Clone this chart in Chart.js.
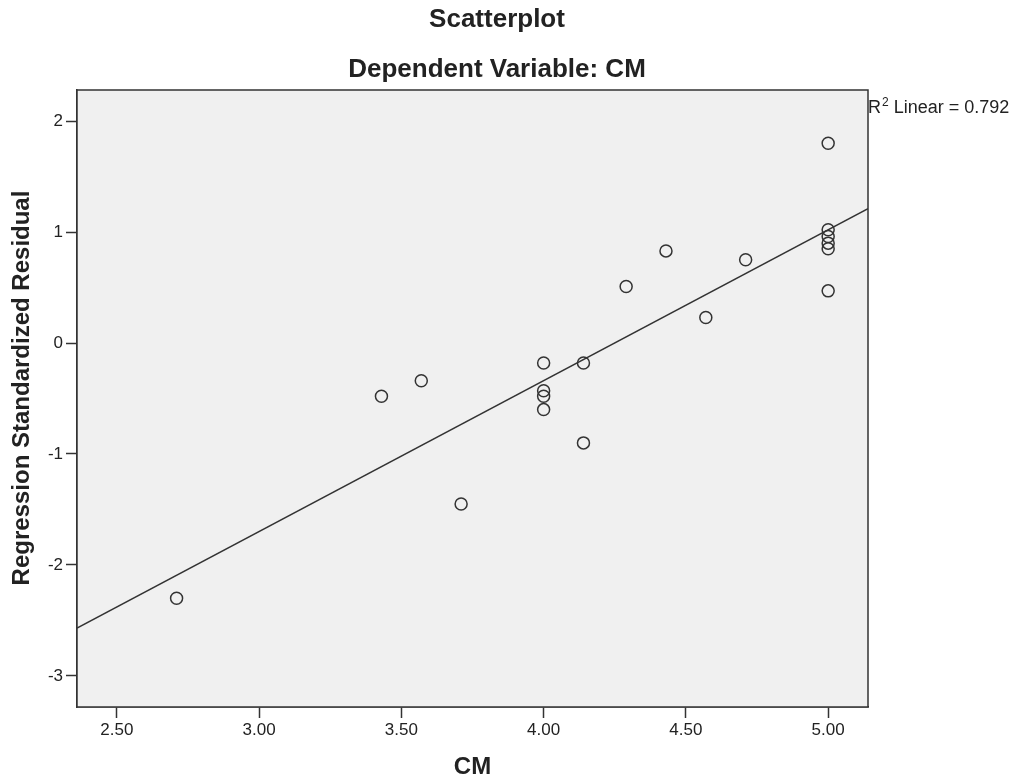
<!DOCTYPE html>
<html>
<head>
<meta charset="utf-8">
<script src="https://cdn.jsdelivr.net/npm/chart.js@4"></script>
<style>
  html, body { margin: 0; padding: 0; background: #fff; }
  #wrap { width: 1012px; height: 782px; }
</style>
</head>
<body>
<div id="wrap"><canvas id="scatter"></canvas></div>
<script>
// CM values and standardized residuals
const cmValues = [2.71, 3.43, 3.57, 3.71, 4.00, 4.00, 4.00, 4.00, 4.14, 4.14,
                  4.29, 4.43, 4.57, 4.71, 5.00, 5.00, 5.00, 5.00, 5.00, 5.00];
const residuals = [-2.30, -0.48, -0.34, -1.45, -0.18, -0.43, -0.48, -0.60, -0.18, -0.90,
                   0.51, 0.83, 0.23, 0.75, 1.80, 1.02, 0.96, 0.90, 0.85, 0.47];

// fit line end points (at the plot edges)
const fitX = [2.36, 5.14];
const fitY = [-2.57, 1.21];

// axis ticks
const xTicks = [2.5, 3.0, 3.5, 4.0, 4.5, 5.0];
const yTicks = [-3, -2, -1, 0, 1, 2];

const titleLines = ['Scatterplot', 'Dependent Variable: CM'];
const yTitle = 'Regression Standardized Residual';
const xTitle = 'CM';
const r2Text = '0.792';

const FONT = "'Liberation Sans', Arial, sans-serif";
const INK = '#222';

// plot background, frame, titles and the R2 label
const spssDecor = {
  id: 'spssDecor',
  beforeDatasetsDraw(chart) {
    const { ctx, chartArea: a } = chart;
    ctx.save();
    ctx.fillStyle = '#f0f0f0';
    ctx.fillRect(a.left, a.top, a.right - a.left, a.bottom - a.top);
    ctx.restore();
  },
  afterDraw(chart) {
    const { ctx, chartArea: a } = chart;
    ctx.save();
    ctx.strokeStyle = '#333';
    ctx.lineWidth = 1.5;
    ctx.strokeRect(a.left, a.top, a.right - a.left, a.bottom - a.top);

    ctx.fillStyle = INK;
    ctx.font = 'bold 26px ' + FONT;
    ctx.textAlign = 'center';
    ctx.textBaseline = 'alphabetic';
    ctx.fillText(titleLines[0], 497, 27);
    ctx.fillText(titleLines[1], 497, 77);

    // y axis title
    ctx.font = 'bold 24px ' + FONT;
    ctx.save();
    ctx.translate(29, 388);
    ctx.rotate(-Math.PI / 2);
    ctx.fillText(yTitle, 0, 0);
    ctx.restore();

    // R2 label
    ctx.textAlign = 'left';
    ctx.font = '18px ' + FONT;
    ctx.fillText('R', 868, 113);
    let x = 868 + ctx.measureText('R').width;
    ctx.font = '12px ' + FONT;
    ctx.fillText('2', x + 1, 106);
    x += ctx.measureText('2').width + 1;
    ctx.font = '18px ' + FONT;
    ctx.fillText(' Linear = ' + r2Text, x, 113);
    ctx.restore();
  }
};

const points = cmValues.map((v, i) => ({ x: v, y: residuals[i] }));
const fitLine = fitX.map((v, i) => ({ x: v, y: fitY[i] }));

new Chart(document.getElementById('scatter'), {
  type: 'scatter',
  data: {
    datasets: [
      {
        label: 'Residuals',
        data: points,
        pointStyle: 'circle',
        pointRadius: 6,
        pointHoverRadius: 6,
        borderWidth: 1.5,
        borderColor: '#333',
        backgroundColor: 'rgba(0,0,0,0)'
      },
      {
        type: 'line',
        label: 'Fit',
        data: fitLine,
        borderColor: '#333',
        borderWidth: 1.5,
        pointRadius: 0,
        fill: false
      }
    ]
  },
  options: {
    responsive: true,
    maintainAspectRatio: false,
    animation: false,
    layout: { padding: { top: 90, right: 144, bottom: 0, left: 0 } },
    scales: {
      x: {
        type: 'linear',
        min: 2.36,
        max: 5.14,
        afterFit: (s) => { s.height = 75; },
        afterBuildTicks: (s) => { s.ticks = xTicks.map(v => ({ value: v })); },
        border: { display: true, color: '#333', width: 1.5 },
        grid: { drawOnChartArea: false, drawTicks: true, tickLength: 11, color: '#333', tickWidth: 1.5 },
        ticks: {
          padding: 2,
          maxRotation: 0,
          color: INK,
          font: { family: FONT, size: 17 },
          callback: (v) => Number(v).toFixed(2)
        },
        title: {
          display: true,
          text: xTitle,
          color: INK,
          font: { family: FONT, size: 24, weight: 'bold', lineHeight: 1.2 },
          padding: { top: 0, bottom: 0 }
        }
      },
      y: {
        type: 'linear',
        min: -3.28,
        max: 2.28,
        afterFit: (s) => { s.width = 77; },
        afterBuildTicks: (s) => { s.ticks = yTicks.map(v => ({ value: v })); },
        border: { display: true, color: '#333', width: 1.5 },
        grid: { drawOnChartArea: false, drawTicks: true, tickLength: 11, color: '#333', tickWidth: 1.5 },
        ticks: {
          padding: 3,
          color: INK,
          font: { family: FONT, size: 17 },
          callback: (v) => String(v)
        }
      }
    },
    plugins: {
      legend: { display: false },
      tooltip: { enabled: false }
    }
  },
  plugins: [spssDecor]
});
</script>
</body>
</html>
